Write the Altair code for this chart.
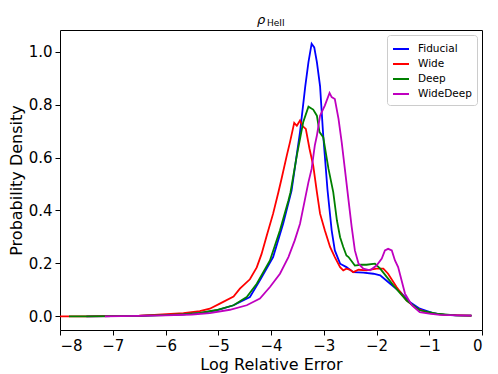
import altair as alt
import pandas as pd

series_names = ["Fiducial", "Wide", "Deep", "WideDeep"]
series_colors = ["#0000ff", "#ff0000", "#008000", "#bf00bf"]

fid_x = [-7.5, -7.0, -6.5, -6.29, -5.98, -5.66, -5.35, -5.03, -4.71, -4.40, -4.21, -3.96, -3.77, -3.61, -3.45,
         -3.35, -3.29, -3.23, -3.18, -3.13, -3.07, -3.01, -2.93, -2.85, -2.79, -2.69, -2.57, -2.44, -2.25, -2.06,
         -1.93, -1.74, -1.55, -1.37, -1.18, -0.93, -0.7, -0.48, -0.2]
fid_y = [0.0, 0.001, 0.002, 0.004, 0.006, 0.008, 0.012, 0.023, 0.042, 0.073, 0.136, 0.224, 0.35, 0.475, 0.696,
         0.87, 0.96, 1.03, 1.016, 0.96, 0.87, 0.683, 0.48, 0.325, 0.249, 0.199, 0.186, 0.167, 0.165, 0.161,
         0.155, 0.123, 0.092, 0.054, 0.029, 0.012, 0.006, 0.004, 0.003]

wide_x = [-8.0, -7.5, -7.0, -6.5, -6.29, -5.98, -5.66, -5.35, -5.16, -4.97, -4.71, -4.59, -4.40, -4.27, -4.18,
          -4.08, -3.96, -3.86, -3.80, -3.70, -3.64, -3.56, -3.51, -3.45, -3.40, -3.34, -3.27, -3.20, -3.13, -3.07,
          -2.98, -2.88, -2.79, -2.69, -2.63, -2.57, -2.50, -2.44, -2.34, -2.19, -2.0, -1.87, -1.78, -1.62, -1.43,
          -1.24, -1.0, -0.7, -0.4, -0.2]
wide_y = [0.0, 0.0, 0.001, 0.003, 0.005, 0.008, 0.012, 0.02, 0.029, 0.048, 0.075, 0.105, 0.14, 0.185, 0.235,
          0.305, 0.388, 0.469, 0.52, 0.608, 0.658, 0.731, 0.72, 0.74, 0.718, 0.708, 0.633, 0.57, 0.469, 0.388,
          0.325, 0.262, 0.224, 0.186, 0.174, 0.18, 0.176, 0.167, 0.176, 0.174, 0.18, 0.18, 0.161, 0.111, 0.06,
          0.029, 0.012, 0.006, 0.004, 0.003]

deep_x = [-7.83, -7.5, -7.0, -6.5, -6.0, -5.66, -5.35, -5.03, -4.71, -4.46, -4.27, -4.02, -3.83, -3.67, -3.63,
          -3.51, -3.39, -3.29, -3.20, -3.13, -3.08, -3.01, -2.91, -2.82, -2.75, -2.69, -2.63, -2.57, -2.53, -2.41,
          -2.30, -2.19, -2.03, -1.93, -1.68, -1.43, -1.18, -0.86, -0.5, -0.2]
deep_y = [0.0, 0.0, 0.001, 0.002, 0.005, 0.008, 0.013, 0.024, 0.042, 0.073, 0.123, 0.211, 0.325, 0.438, 0.469,
          0.608, 0.733, 0.792, 0.781, 0.758, 0.696, 0.677, 0.557, 0.469, 0.362, 0.299, 0.262, 0.23, 0.224, 0.192,
          0.195, 0.195, 0.199, 0.18, 0.117, 0.06, 0.023, 0.01, 0.004, 0.003]

wd_x = [-7.15, -6.5, -6.0, -5.5, -5.16, -4.78, -4.46, -4.21, -4.02, -3.83, -3.67, -3.55, -3.45, -3.36, -3.29,
        -3.23, -3.17, -3.13, -3.07, -2.98, -2.89, -2.85, -2.79, -2.72, -2.66, -2.60, -2.53, -2.47, -2.41, -2.34,
        -2.25, -2.12, -2.0, -1.90, -1.84, -1.78, -1.71, -1.65, -1.59, -1.46, -1.33, -1.18, -1.0, -0.8, -0.42, -0.2]
wd_y = [0.0, 0.002, 0.004, 0.007, 0.012, 0.025, 0.042, 0.067, 0.111, 0.161, 0.224, 0.287, 0.35, 0.438, 0.507,
        0.557, 0.645, 0.683, 0.758, 0.796, 0.844, 0.828, 0.821, 0.746, 0.658, 0.557, 0.438, 0.337, 0.249, 0.199,
        0.18, 0.174, 0.192, 0.218, 0.249, 0.255, 0.249, 0.211, 0.186, 0.086, 0.042, 0.016, 0.01, 0.006, 0.004, 0.003]

x_ticks = [-8, -7, -6, -5, -4, -3, -2, -1, 0]
y_ticks = [0.0, 0.2, 0.4, 0.6, 0.8, 1.0]

rows = []
for name, xs, ys in zip(series_names, [fid_x, wide_x, deep_x, wd_x], [fid_y, wide_y, deep_y, wd_y]):
    for i, (a, b) in enumerate(zip(xs, ys)):
        rows.append({"series": name, "x": a, "y": b, "order": i})
df = pd.DataFrame(rows)

FONT = "DejaVu Sans"

lines = alt.Chart(df).mark_line(strokeWidth=1.8, clip=True).encode(
    x=alt.X("x:Q", scale=alt.Scale(domain=[-8, 0], nice=False, zero=False),
            axis=alt.Axis(values=x_ticks, format="d", title="Log Relative Error")),
    y=alt.Y("y:Q", scale=alt.Scale(domain=[-0.0515, 1.0816], nice=False, zero=False),
            axis=alt.Axis(values=y_ticks, format=".1f", title="Probability Density")),
    color=alt.Color("series:N", sort=series_names,
                    scale=alt.Scale(domain=series_names, range=series_colors),
                    legend=alt.Legend(title=None, orient="top-right", offset=5,
                                      symbolType="stroke", symbolSize=256, symbolStrokeWidth=2,
                                      labelFontSize=10.5, labelFont=FONT, labelOffset=8,
                                      rowPadding=0, padding=5,
                                      fillColor="white", strokeColor="#cccccc", cornerRadius=3)),
    order="order:Q",
)

title_df = pd.DataFrame({"t": ["ρ"]})
rho = alt.Chart(title_df).mark_text(font=FONT, fontSize=13, fontStyle="italic", align="left",
                                     baseline="alphabetic").encode(
    x=alt.value(197), y=alt.value(-6), text="t:N")
sub_df = pd.DataFrame({"t": ["HeII"]})
sub = alt.Chart(sub_df).mark_text(font=FONT, fontSize=9, align="left", baseline="alphabetic").encode(
    x=alt.value(207), y=alt.value(-4), text="t:N")

chart = alt.layer(lines, rho, sub).properties(
    width=422, height=300,
    autosize=alt.AutoSizeParams(type="none"),
    padding={"left": 52, "top": 22, "right": 8, "bottom": 44},
).configure_view(stroke="black", strokeWidth=1).configure_axis(
    grid=False, domain=False, tickColor="black", tickSize=5, tickWidth=1,
    labelFont=FONT, labelFontSize=15, labelColor="black", labelPadding=3,
    titleFont=FONT, titleFontSize=16, titleFontWeight="normal", titleColor="black",
).configure_axisY(titlePadding=4).configure_axisX(titlePadding=3)

chart.save("out.html", embed_options={"renderer": "svg", "actions": False})
